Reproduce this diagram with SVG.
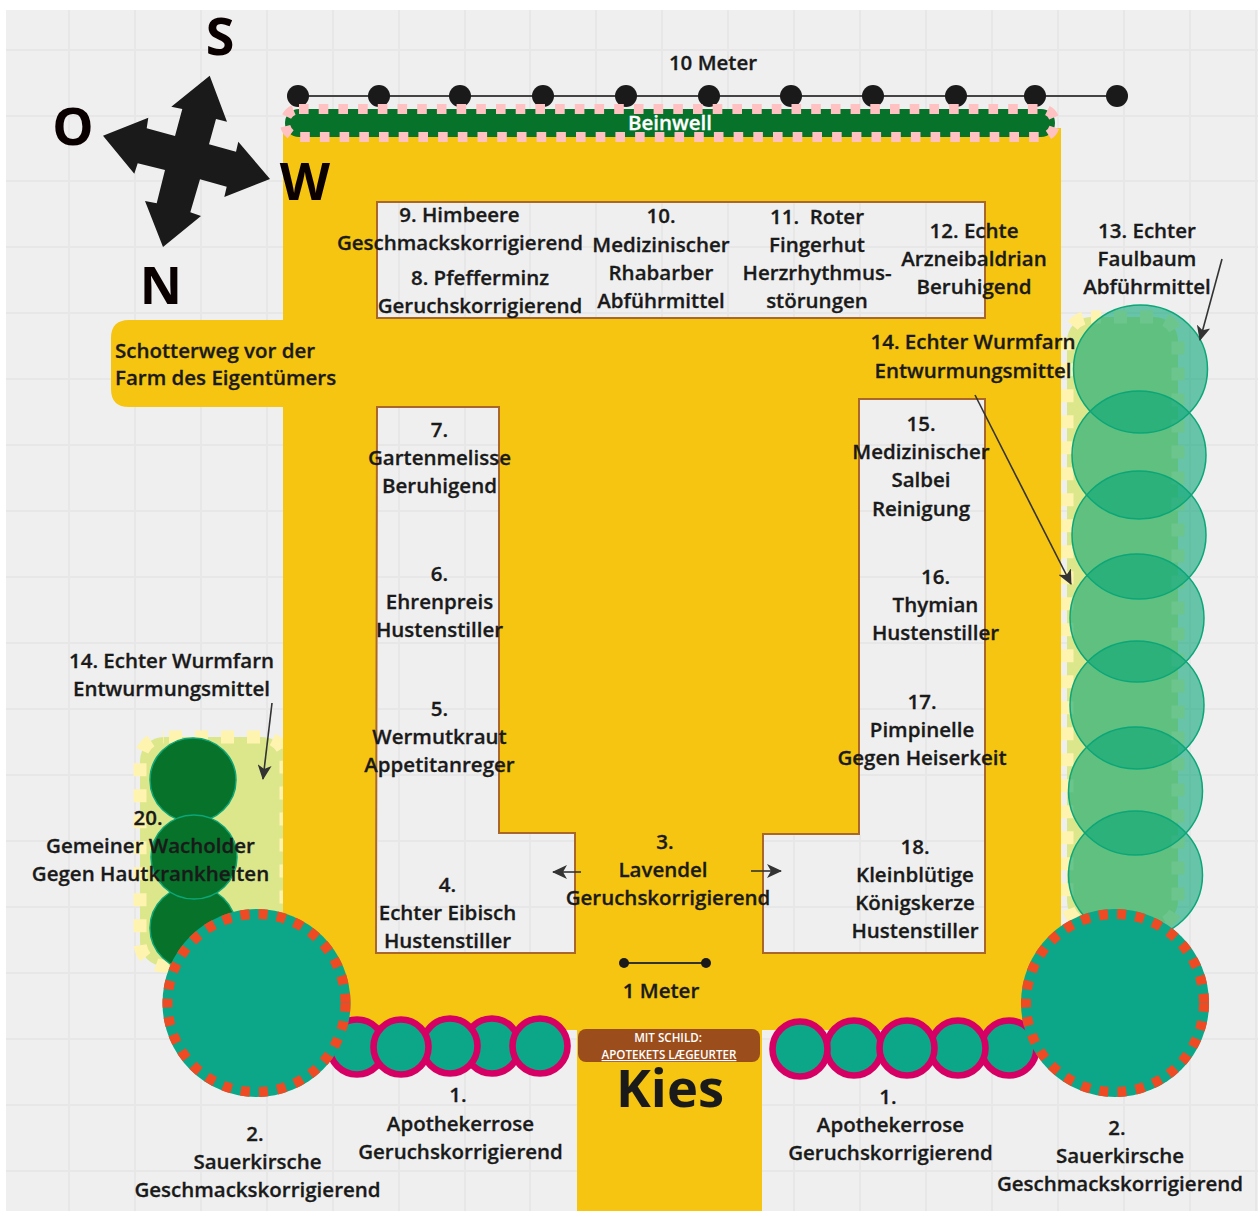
<svg xmlns="http://www.w3.org/2000/svg" width="1258" height="1211" viewBox="0 0 1258 1211">
<style>
text{font-family:"Open Sans","Liberation Sans",sans-serif;font-weight:600;font-size:20.5px;fill:#1a1a1a;stroke:#1a1a1a;stroke-width:.3;text-anchor:middle}
.b{font-weight:700;font-size:52px;fill:#0b0000;stroke:none}
.l{text-anchor:start}
.s{font-size:11.6px;font-weight:600;fill:#fff;stroke:none}
.g{stroke:#e7e7e7;stroke-width:2;fill:none}
.hedge{fill:#dbe78a;stroke:#fff3b0;stroke-width:13;stroke-dasharray:13 13}
.bush{fill:#0ca678;fill-opacity:.6;stroke:#0ca678;stroke-width:1.5}
.jun{fill:#077229;stroke:#0ca678;stroke-width:1.5}
.rose{fill:#0ca688;stroke:#d60065;stroke-width:6.6}
.big{fill:#0ca688}
.bigd{fill:none;stroke:#ee4b24;stroke-width:10;stroke-dasharray:9 9.3}
.c{stroke:#333;stroke-width:1.6;fill:none;marker-end:url(#a)}
.d{fill:#1a1a1a}
.cut{fill:#efefef;stroke:#a9672a;stroke-width:2}
</style>
<defs><marker id="a" markerUnits="userSpaceOnUse" markerWidth="16" markerHeight="14" refX="14" refY="7" orient="auto"><path d="M0,0L15,7L0,14L4,7z" fill="#333"/></marker></defs>
<rect width="1258" height="1211" fill="#fff"/>
<rect x="6" y="10" width="1252" height="1201" fill="#efefef"/>
<path class="g" d="M69,10V1211M135,10V1211M201,10V1211M267,10V1211M333,10V1211M399,10V1211M465,10V1211M530,10V1211M596,10V1211M662,10V1211M728,10V1211M794,10V1211M860,10V1211M926,10V1211M992,10V1211M1058,10V1211M1124,10V1211M1190,10V1211M1256,10V1211M6,50H1258M6,116H1258M6,181H1258M6,247H1258M6,313H1258M6,379H1258M6,445H1258M6,511H1258M6,577H1258M6,643H1258M6,709H1258M6,775H1258M6,841H1258M6,907H1258M6,973H1258M6,1039H1258M6,1105H1258M6,1171H1258"/>
<g id="hedge-left"><rect class="hedge" x="140" y="737" width="146" height="229" rx="24" stroke-dashoffset="-5"/></g>
<g id="hedge-right"><rect class="hedge" x="1067" y="317" width="111" height="608" rx="24" stroke-dashoffset="3"/></g>
<g id="ground"><path fill="#f6c511" d="M283,128H1061V1030H762V1211H577V1030H283V407H129Q111,407 111,389V338Q111,320 129,320H283Z"/>
<path class="cut" d="M377,202H985V318H377Z"/>
<path class="cut" d="M377,407H499V833H575V953H376Z"/>
<path class="cut" d="M859,399H985V953H763V834H859Z"/>
<path class="g" d="M399,203V317M465,203V317M530,203V317M596,203V317M662,203V317M728,203V317M794,203V317M860,203V317M926,203V317M378,247H984M378,313H984M399,408V952M465,408V952M530,834V952M378,445H498M378,511H498M378,577H498M378,643H498M378,709H498M378,775H498M378,841H574M378,907H574M926,400V952M860,835V952M794,835V952M860,445H984M860,511H984M860,577H984M860,643H984M860,709H984M860,775H984M764,841H984M764,907H984"/></g>
<g id="compass"><path class="d" d="M209.7,75.7L227,121.7L216,119L209,144.3L236,151.7L238.3,141.7L270,179L224.3,197L226.7,186.7L200,179.3L190.3,212.3L201,216L163,247L145,201L156.7,203.3L165,170L137.7,163.3L134.3,173.7L103,135.7L148.3,117.7L146.7,128.3L175,136L182.3,109L171.3,106.7Z"/>
<text class="b" x="220" y="55">S</text><text class="b" x="73" y="145">O</text><text class="b" x="305" y="200">W</text><text class="b" x="161" y="304">N</text></g>
<g id="ruler"><path stroke="#444" stroke-width="2" d="M298,96H1117"/>
<circle class="d" cx="298" cy="96" r="11"/><circle class="d" cx="379" cy="96" r="11"/><circle class="d" cx="460" cy="96" r="11"/><circle class="d" cx="543" cy="96" r="11"/><circle class="d" cx="626" cy="96" r="11"/><circle class="d" cx="709" cy="96" r="11"/><circle class="d" cx="791" cy="96" r="11"/><circle class="d" cx="873" cy="96" r="11"/><circle class="d" cx="956" cy="96" r="11"/><circle class="d" cx="1035" cy="96" r="11"/><circle class="d" cx="1117" cy="96" r="11"/>
<text x="713" y="70">10 Meter</text></g>
<g id="beinwell"><rect x="285" y="109" width="770" height="28" rx="14" fill="#077229" stroke="#ffc1c1" stroke-width="10" stroke-dasharray="9.6 10.1"/><text x="670" y="130" style="fill:#fff;stroke:#fff">Beinwell</text></g>
<g id="bush-13"><ellipse class="bush" cx="1140.5" cy="369" rx="67" ry="64"/><ellipse class="bush" cx="1139" cy="455" rx="67" ry="64"/><ellipse class="bush" cx="1139" cy="535" rx="67" ry="64"/><ellipse class="bush" cx="1137" cy="618" rx="67" ry="64"/><ellipse class="bush" cx="1137" cy="705" rx="67" ry="64"/><ellipse class="bush" cx="1135.5" cy="791" rx="67" ry="64"/><ellipse class="bush" cx="1135.5" cy="875" rx="67" ry="64"/></g>
<g id="juniper"><ellipse class="jun" cx="193" cy="780" rx="43" ry="42"/><ellipse class="jun" cx="193" cy="928" rx="43" ry="42"/><ellipse class="jun" cx="194" cy="857" rx="43" ry="42"/></g>
<g id="roses-left"><circle class="rose" cx="357" cy="1047" r="27.5"/><circle class="rose" cx="492" cy="1046" r="27.5"/><circle class="rose" cx="450" cy="1046" r="27.5"/><circle class="rose" cx="401" cy="1047" r="27.5"/><circle class="rose" cx="540" cy="1046" r="27.5"/></g>
<g id="roses-right"><circle class="rose" cx="1009" cy="1048" r="27.5"/><circle class="rose" cx="958" cy="1048" r="27.5"/><circle class="rose" cx="854" cy="1048" r="27.5"/><circle class="rose" cx="907" cy="1048" r="27.5"/><circle class="rose" cx="800" cy="1049" r="27.5"/></g>
<g id="cherry-left"><circle class="big" cx="256.5" cy="1003" r="94"/><circle class="bigd" cx="256.5" cy="1003" r="89"/></g>
<g id="cherry-right"><circle class="big" cx="1115" cy="1003" r="94"/><circle class="bigd" cx="1115" cy="1003" r="89"/></g>
<g id="sign"><rect x="578" y="1029" width="182" height="33" rx="8" fill="#9c4d1c"/><text class="s" x="668" y="1042">MIT SCHILD:</text><text class="s" x="669" y="1059" text-decoration="underline">APOTEKETS LÆGEURTER</text><text x="670" y="1107" style="font-size:52.5px;font-weight:700;stroke:none">Kies</text></g>
<g id="connectors"><path class="c" d="M1222,259L1200,340"/><path class="c" d="M975,395L1071,584"/><path class="c" d="M272,703L263,779"/><path class="c" d="M581,872H553"/><path class="c" d="M751,871H781"/></g>
<g id="scale"><path stroke="#333" stroke-width="2" d="M624,963H706"/><circle class="d" cx="624" cy="963" r="5"/><circle class="d" cx="706" cy="963" r="5"/><text x="661" y="998">1 Meter</text></g>
<g id="n-path"><text class="l" x="115" y="358">Schotterweg vor der</text><text class="l" x="115" y="385">Farm des Eigentümers</text></g>
<g id="n9"><text x="459.5" y="222">9. Himbeere</text><text x="460" y="250">Geschmackskorrigierend</text></g>
<g id="n8"><text x="480" y="285">8. Pfefferminz</text><text x="480" y="313">Geruchskorrigierend</text></g>
<g id="n10"><text x="661" y="223">10.</text><text x="661" y="252">Medizinischer</text><text x="661" y="280">Rhabarber</text><text x="661" y="308">Abführmittel</text></g>
<g id="n11"><text x="817" y="224" xml:space="preserve">11.  Roter</text><text x="817" y="252">Fingerhut</text><text x="817" y="280">Herzrhythmus-</text><text x="817" y="308">störungen</text></g>
<g id="n12"><text x="974" y="238">12. Echte</text><text x="974" y="266">Arzneibaldrian</text><text x="974" y="294">Beruhigend</text></g>
<g id="n13"><text x="1147" y="238">13. Echter</text><text x="1147" y="266">Faulbaum</text><text x="1147" y="294">Abführmittel</text></g>
<g id="n14a"><text x="973" y="349">14. Echter Wurmfarn</text><text x="973" y="378">Entwurmungsmittel</text></g>
<g id="n15"><text x="921" y="431">15.</text><text x="921" y="459">Medizinischer</text><text x="921" y="487">Salbei</text><text x="921" y="516">Reinigung</text></g>
<g id="n16"><text x="935.5" y="584">16.</text><text x="935.5" y="612">Thymian</text><text x="935.5" y="640">Hustenstiller</text></g>
<g id="n17"><text x="922" y="709">17.</text><text x="922" y="737">Pimpinelle</text><text x="922" y="765">Gegen Heiserkeit</text></g>
<g id="n18"><text x="915" y="854">18.</text><text x="915" y="882">Kleinblütige</text><text x="915" y="910">Königskerze</text><text x="915" y="938">Hustenstiller</text></g>
<g id="n3"><text x="665" y="849">3.</text><text x="663" y="877">Lavendel</text><text x="668" y="905">Geruchskorrigierend</text></g>
<g id="n4"><text x="447.5" y="892">4.</text><text x="447.5" y="920">Echter Eibisch</text><text x="447.5" y="948">Hustenstiller</text></g>
<g id="n7"><text x="439.5" y="437">7.</text><text x="439.5" y="465">Gartenmelisse</text><text x="439.5" y="493">Beruhigend</text></g>
<g id="n6"><text x="439.5" y="581">6.</text><text x="439.5" y="609">Ehrenpreis</text><text x="439.5" y="637">Hustenstiller</text></g>
<g id="n5"><text x="439.5" y="716">5.</text><text x="439.5" y="744">Wermutkraut</text><text x="439.5" y="772">Appetitanreger</text></g>
<g id="n14b"><text x="171.5" y="668">14. Echter Wurmfarn</text><text x="171.5" y="696">Entwurmungsmittel</text></g>
<g id="n20"><text x="148" y="825">20.</text><text x="150.5" y="853">Gemeiner Wacholder</text><text x="150.5" y="881">Gegen Hautkrankheiten</text></g>
<g id="n1a"><text x="458" y="1102">1.</text><text x="460.5" y="1131">Apothekerrose</text><text x="460.5" y="1159">Geruchskorrigierend</text></g>
<g id="n1b"><text x="888" y="1104">1.</text><text x="890.5" y="1132">Apothekerrose</text><text x="890.5" y="1160">Geruchskorrigierend</text></g>
<g id="n2a"><text x="255" y="1141">2.</text><text x="257.5" y="1169">Sauerkirsche</text><text x="257.5" y="1197">Geschmackskorrigierend</text></g>
<g id="n2b"><text x="1117" y="1135">2.</text><text x="1120" y="1163">Sauerkirsche</text><text x="1120" y="1191">Geschmackskorrigierend</text></g>
</svg>
